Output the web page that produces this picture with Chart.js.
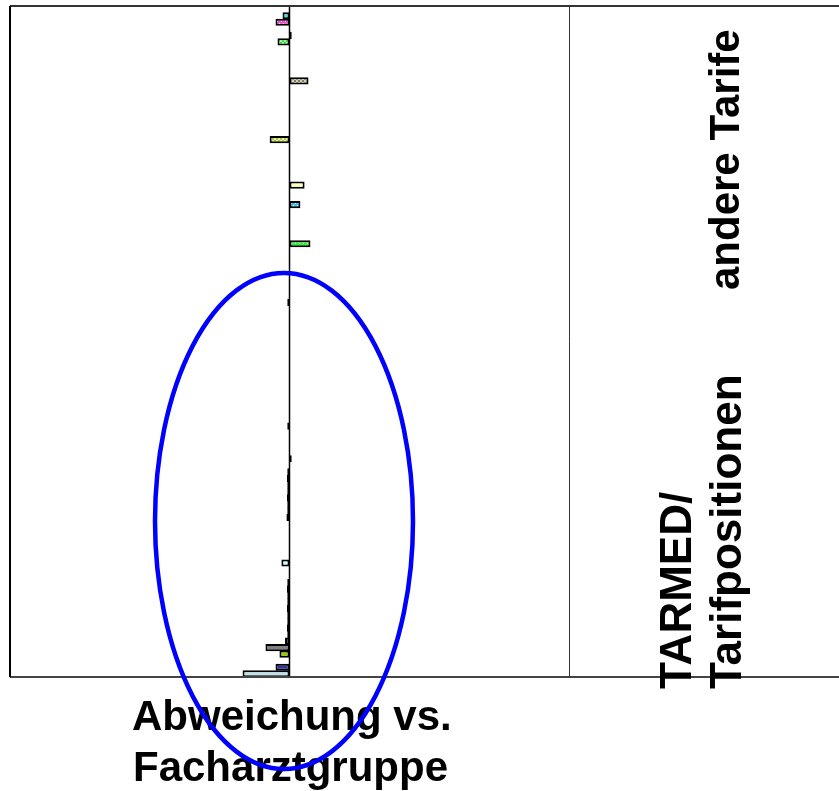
<!DOCTYPE html>
<html>
<head>
<meta charset="utf-8">
<script src="https://cdn.jsdelivr.net/npm/chart.js@4"></script>
<style>
  html, body { margin: 0; padding: 0; background: #fff; overflow: hidden; }
  canvas { display: block; }
</style>
</head>
<body>
<canvas id="c" width="839" height="791"></canvas>
<script>
// Deviation from the specialist group (percentage points), one row per tariff position.
// Rows 0–45: "andere Tarife", rows 46–102: "TARMED/Tarifpositionen".
const deviation = [
  null, -2.5, -5.0, null, 0.8, -4.3, null, null, null, null,      // 0–9
  null, 6.8, null, null, null, null, null, null, null, null,       // 10–19
  -7.1, null, null, null, null, null, null, 5.4, null, null,       // 20–29
  3.9, null, null, null, null, null, 7.5, null, null, null,        // 30–39
  null, null, null, null, null, -0.8, null, null, null, null,      // 40–49
  null, null, null, null, null, null, null, null, null, null,      // 50–59
  null, null, null, null, -0.8, null, null, null, null, 0.8,       // 60–69
  null, -0.8, -0.9, -0.8, -0.8, -0.9, -0.8, -0.8, -1.1, null,      // 70–79
  null, null, null, null, null, -2.9, null, null, -0.8, -0.9,      // 80–89
  -0.8, -0.8, -0.9, -0.8, -0.8, -0.9, -0.8, -1.6, -8.6, -3.6,      // 90–99
  null, -5.0, -16.8                                                // 100–102
];
const positions = deviation.map((_, i) => 'Pos. ' + (i + 1));

const sectionLabels = ['andere Tarife', 'TARMED/', 'Tarifpositionen'];
const axisTitleLines = ['Abweichung vs.', 'Facharztgruppe'];

// --- fills -------------------------------------------------------------
function checker(base, alt) {
  const c = document.createElement('canvas');
  c.width = 4; c.height = 4;
  const g = c.getContext('2d');
  g.fillStyle = base; g.fillRect(0, 0, 4, 4);
  g.fillStyle = alt; g.fillRect(0, 0, 2, 2); g.fillRect(2, 2, 2, 2);
  return g.createPattern(c, 'repeat');
}
function dotted(base, dot) {
  const c = document.createElement('canvas');
  c.width = 4; c.height = 4;
  const g = c.getContext('2d');
  g.fillStyle = base; g.fillRect(0, 0, 4, 4);
  g.fillStyle = dot; g.fillRect(1, 1, 1, 1); g.fillRect(3, 3, 1, 1);
  return g.createPattern(c, 'repeat');
}
const rowFill = {
  1: '#44dde8',
  2: dotted('#ff44cc', '#ffffff'),
  4: '#111111',
  5: checker('#33dd33', '#99ff99'),
  11: checker('#7f7d66', '#d6d0b0'),
  20: checker('#aacc44', '#e4f0a0'),
  27: checker('#ffff99', '#ffffdd'),
  30: dotted('#33c4f0', '#ffffff'),
  36: dotted('#33ee33', '#ccffcc'),
  78: '#3355cc',
  85: '#ccffff',
  97: '#222222',
  98: '#808080',
  99: '#99cc00',
  101: '#333399',
  102: '#bfe1ea'
};
const fills = deviation.map((_, i) => rowFill[i] || '#222222');

// --- frame, zero line, labels and highlight ----------------------------
const decor = {
  id: 'decor',
  afterDatasetsDraw(chart) {
    const { ctx, chartArea: a, scales } = chart;
    const x0 = scales.x.getPixelForValue(0);
    ctx.save();
    ctx.strokeStyle = '#000';
    ctx.lineWidth = 1.5;
    ctx.beginPath(); ctx.moveTo(x0, a.top); ctx.lineTo(x0, a.bottom); ctx.stroke();

    ctx.strokeStyle = '#333';
    ctx.lineWidth = 2;
    ctx.beginPath(); ctx.moveTo(a.left, a.top); ctx.lineTo(chart.width, a.top); ctx.stroke();
    ctx.strokeStyle = '#444';
    ctx.beginPath(); ctx.moveTo(a.left, a.bottom); ctx.lineTo(chart.width, a.bottom); ctx.stroke();
    ctx.strokeStyle = '#000';
    ctx.beginPath(); ctx.moveTo(a.left, a.top); ctx.lineTo(a.left, a.bottom); ctx.stroke();
    ctx.strokeStyle = '#333';
    ctx.lineWidth = 1;
    ctx.beginPath(); ctx.moveTo(a.right + 0.5, a.top); ctx.lineTo(a.right + 0.5, a.bottom); ctx.stroke();
    ctx.restore();
  },
  afterDraw(chart) {
    const { ctx } = chart;
    ctx.save();
    ctx.fillStyle = '#000';
    ctx.textAlign = 'left';
    ctx.textBaseline = 'alphabetic';

    const vertical = (text, x, y) => {
      ctx.save();
      ctx.translate(x, y);
      ctx.rotate(-Math.PI / 2);
      ctx.fillText(text, 0, 0);
      ctx.restore();
    };
    ctx.font = 'bold 42px "Liberation Sans", Arial, sans-serif';
    vertical(sectionLabels[0], 739, 290);
    ctx.font = 'bold 44px "Liberation Sans", Arial, sans-serif';
    vertical(sectionLabels[1], 691, 689);
    vertical(sectionLabels[2], 741, 689);

    ctx.font = 'bold 42px "Liberation Sans", Arial, sans-serif';
    ctx.fillText(axisTitleLines[0], 132, 730);
    ctx.fillText(axisTitleLines[1], 133, 781);

    ctx.strokeStyle = '#0000ff';
    ctx.lineWidth = 4.5;
    ctx.beginPath();
    ctx.ellipse(284, 521, 129, 248, 0, 0, Math.PI * 2);
    ctx.stroke();
    ctx.restore();
  }
};

new Chart(document.getElementById('c'), {
  type: 'bar',
  data: {
    labels: positions,
    datasets: [{
      data: deviation,
      backgroundColor: fills,
      borderColor: '#000',
      borderWidth: 2,
      borderSkipped: false,
      categoryPercentage: 1,
      barPercentage: 1.1
    }]
  },
  options: {
    indexAxis: 'y',
    responsive: false,
    animation: false,
    layout: { padding: { left: 10, right: 270, top: 6, bottom: 114 } },
    scales: {
      x: { min: -100, max: 100, display: false },
      y: { display: false }
    },
    plugins: { legend: { display: false }, tooltip: { enabled: false } }
  },
  plugins: [decor]
});
</script>
</body>
</html>
